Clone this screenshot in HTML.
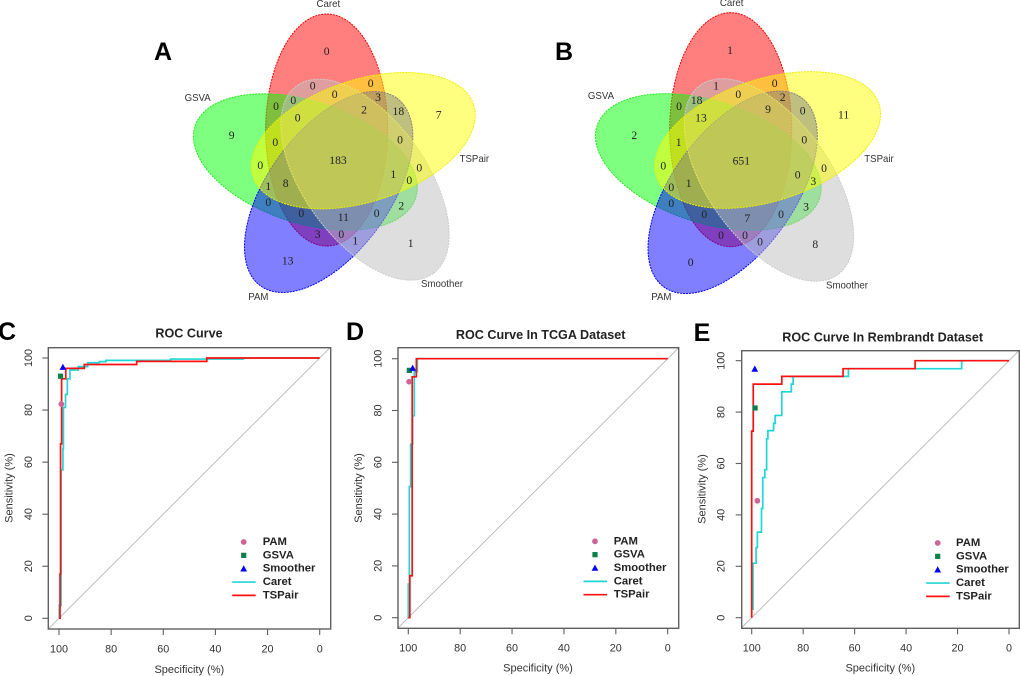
<!DOCTYPE html>
<html>
<head>
<meta charset="utf-8">
<title>Venn diagrams and ROC curves</title>
<style>
html,body{margin:0;padding:0;background:#fff;}
svg{display:block;}
.num{font-family:"Liberation Serif",serif;font-size:35px;fill:#222;text-anchor:middle;dominant-baseline:central;}
.set{font-family:"Liberation Sans",sans-serif;font-size:29px;fill:#333;text-anchor:middle;dominant-baseline:central;}
.letter{font-family:"Liberation Sans",sans-serif;font-size:25px;font-weight:bold;fill:#000;text-anchor:middle;dominant-baseline:central;}
.e{stroke-width:3;stroke-dasharray:6 3;}
</style>
</head>
<body>
<svg id="fig" xmlns="http://www.w3.org/2000/svg" width="1020" height="676" viewBox="0 0 1020 676">
<rect width="1020" height="676" fill="#fff"/>

<text class="letter" x="163" y="52">A</text>
<text class="letter" x="564" y="52">B</text>
<text class="letter" x="7" y="332">C</text>
<text class="letter" x="355" y="332">D</text>
<text class="letter" x="702" y="333">E</text>

<g transform="translate(140,0) scale(0.33333)">
<ellipse class="e" cx="560" cy="390" rx="348" ry="183" transform="rotate(90 560 390)" fill="#f00" fill-opacity=".5" stroke="#f00"/>
<ellipse class="e" cx="496" cy="486" rx="348" ry="183" transform="rotate(18 496 486)" fill="#0f0" fill-opacity=".5" stroke="#2e2"/>
<ellipse class="e" cx="566" cy="576" rx="348" ry="183" transform="rotate(-54 566 576)" fill="#00f" fill-opacity=".5" stroke="#00f"/>
<ellipse class="e" cx="675" cy="539" rx="348" ry="183" transform="rotate(54 675 539)" fill="#bebebe" fill-opacity=".5" stroke="#ccc"/>
<ellipse class="e" cx="670" cy="422" rx="348" ry="183" transform="rotate(-18 670 422)" fill="#ff0" fill-opacity=".5" stroke="#ee0"/>
<g>
<text class="num" x="560" y="155">0</text><text class="num" x="518" y="258">0</text><text class="num" x="692" y="250">0</text><text class="num" x="584" y="284">0</text><text class="num" x="714" y="292">3</text><text class="num" x="672" y="330">2</text><text class="num" x="775" y="335">18</text><text class="num" x="896" y="345">7</text><text class="num" x="460" y="302">0</text><text class="num" x="408" y="320">0</text><text class="num" x="473" y="354">0</text><text class="num" x="275" y="406">9</text><text class="num" x="406" y="427">0</text><text class="num" x="780" y="420">0</text><text class="num" x="594" y="482">183</text><text class="num" x="361" y="497">0</text><text class="num" x="838" y="504">0</text><text class="num" x="760" y="524">1</text><text class="num" x="808" y="541">0</text><text class="num" x="385" y="560">1</text><text class="num" x="437" y="550">8</text><text class="num" x="385" y="607">0</text><text class="num" x="784" y="618">2</text><text class="num" x="484" y="640">0</text><text class="num" x="610" y="652">11</text><text class="num" x="710" y="640">0</text><text class="num" x="533" y="703">3</text><text class="num" x="604" y="703">0</text><text class="num" x="646" y="723">1</text><text class="num" x="812" y="730">1</text><text class="num" x="443" y="783">13</text>
</g>
<text class="set" x="565" y="13">Caret</text>
<text class="set" x="173" y="296">GSVA</text>
<text class="set" x="1003" y="478">TSPair</text>
<text class="set" x="906" y="853">Smoother</text>
<text class="set" x="355" y="893">PAM</text>
</g>

<g transform="translate(540,0) scale(0.33333)">
<ellipse class="e" cx="572" cy="389" rx="351" ry="183" transform="rotate(90 572 389)" fill="#f00" fill-opacity=".5" stroke="#f00"/>
<ellipse class="e" cx="505" cy="486" rx="351" ry="183" transform="rotate(18 505 486)" fill="#0f0" fill-opacity=".5" stroke="#2e2"/>
<ellipse class="e" cx="578" cy="577" rx="351" ry="183" transform="rotate(-54 578 577)" fill="#00f" fill-opacity=".5" stroke="#00f"/>
<ellipse class="e" cx="687" cy="540" rx="351" ry="183" transform="rotate(54 687 540)" fill="#bebebe" fill-opacity=".5" stroke="#ccc"/>
<ellipse class="e" cx="683" cy="420" rx="351" ry="183" transform="rotate(-18 683 420)" fill="#ff0" fill-opacity=".5" stroke="#ee0"/>
<g>
<text class="num" x="570" y="152">1</text><text class="num" x="528" y="258">1</text><text class="num" x="704" y="250">0</text><text class="num" x="595" y="284">0</text><text class="num" x="728" y="292">2</text><text class="num" x="684" y="328">9</text><text class="num" x="788" y="333">0</text><text class="num" x="911" y="345">11</text><text class="num" x="470" y="302">18</text><text class="num" x="417" y="320">0</text><text class="num" x="483" y="354">13</text><text class="num" x="283" y="406">2</text><text class="num" x="416" y="427">1</text><text class="num" x="793" y="420">0</text><text class="num" x="604" y="483">651</text><text class="num" x="370" y="498">0</text><text class="num" x="852" y="505">0</text><text class="num" x="773" y="525">0</text><text class="num" x="820" y="544">3</text><text class="num" x="394" y="563">0</text><text class="num" x="446" y="551">1</text><text class="num" x="394" y="611">0</text><text class="num" x="798" y="621">3</text><text class="num" x="493" y="644">0</text><text class="num" x="622" y="656">7</text><text class="num" x="723" y="644">0</text><text class="num" x="543" y="707">0</text><text class="num" x="615" y="707">0</text><text class="num" x="660" y="726">0</text><text class="num" x="826" y="733">8</text><text class="num" x="452" y="788">0</text>
</g>
<text class="set" x="575" y="11">Caret</text>
<text class="set" x="183" y="289">GSVA</text>
<text class="set" x="1017" y="479">TSPair</text>
<text class="set" x="921" y="858">Smoother</text>
<text class="set" x="364" y="893">PAM</text>
</g>
</svg>

<script>
// Shared axis ticks
const specificityTicks = [100, 80, 60, 40, 20, 0];
const sensitivityTicks = [0, 20, 40, 60, 80, 100];
const legendLabels = ["PAM", "GSVA", "Smoother", "Caret", "TSPair"];

// Panel C values (each step: move to the specificity, then rise to the sensitivity)
const cCaretSpec = [100, 99.9, 99.2, 98.5, 98.3, 97.5, 96.8, 95.8, 92.6, 89, 84.5, 82, 57.2, 29.3, 0];
const cCaretSens = [0, 5, 57, 65, 81, 86, 92, 95.4, 96.7, 98.2, 98.6, 99.1, 99.6, 100, 100];
const cTSPairSpec = [100, 99.6, 99.4, 99, 97.4, 90.3, 70.2, 43.3, 0];
const cTSPairSens = [0, 17, 67, 92, 96, 97.5, 98.7, 100, 100];
const cPam = [99.1, 82.3];
const cGsva = [99.4, 93];
const cSmoother = [98.5, 96.5];

// Panel D values
const dCaretSpec = [100, 100, 99.6, 99.1, 98.3, 97.7, 96.5, 0];
const dCaretSens = [0, 13, 50.6, 67, 78, 95, 100, 100];
const dTSPairSpec = [100, 99.4, 98.5, 96.9, 0];
const dTSPairSens = [0, 16.2, 93, 100, 100];
const dPam = [99.7, 91.1];
const dGsva = [99.6, 95.5];
const dSmoother = [98.3, 96.4];

// Panel E values
const eCaretSpec = [99.5, 99.5, 98.3, 97.8, 96.2, 95.7, 94.9, 94.2, 93.7, 91.5, 90.9, 88.3, 84.6, 83.9, 62.4, 18.4, 0];
const eCaretSens = [3, 21.2, 27.3, 33.3, 42.5, 54.5, 57.6, 69.6, 72.8, 75.6, 78.7, 87.9, 90.9, 93.9, 96.9, 100, 100];
const eTSPairSpec = [100, 100, 99.4, 88.3, 64.5, 36.5, 0];
const eTSPairSens = [0, 72.6, 90.9, 93.9, 96.9, 100, 100];
const ePam = [97.8, 45.5];
const eGsva = [98.7, 81.6];
const eSmoother = [98.8, 96.8];

const NS = "http://www.w3.org/2000/svg";
const fig = document.getElementById("fig");
const SANS = '"Liberation Sans", sans-serif';
const GREY = "#5f5f5f";
const TXT = "#333";

function mk(parent, tag, attrs, text) {
  const el = document.createElementNS(NS, tag);
  for (const k in attrs) el.setAttribute(k, attrs[k]);
  if (text !== undefined) el.textContent = text;
  parent.appendChild(el);
  return el;
}

function stepPath(sx, sy, spec, sens) {
  let d = "M" + sx(spec[0]).toFixed(2) + " " + sy(sens[0]).toFixed(2);
  for (let i = 1; i < spec.length; i++) {
    d += "H" + sx(spec[i]).toFixed(2) + "V" + sy(sens[i]).toFixed(2);
  }
  return d;
}

function drawMarker(g, kind, cx, cy) {
  let m;
  if (kind === 0) {
    m = mk(g, "circle", { cx: cx, cy: cy, r: 2.9, fill: "#CC6699" });
    
  } else if (kind === 1) {
    m = mk(g, "rect", { x: cx - 2.6, y: cy - 2.6, width: 5.2, height: 5.2, fill: "#0B8048" });
    
  } else {
    m = mk(g, "polygon", { points: (cx - 3.4) + "," + (cy + 2.8) + " " + (cx + 3.4) + "," + (cy + 2.8) + " " + cx + "," + (cy - 3.4), fill: "#0000FF" });
    
  }
  
}

function drawPanel(p) {
  const sx = v => p.x100 + (100 - v) * (p.x0 - p.x100) / 100;
  const sy = v => p.y0 - v * (p.y0 - p.y100) / 100;

  const g = mk(fig, "g", {});
  
  

  const clipId = p.id + "-clip";
  const defs = mk(g, "defs", {});
  const cp = mk(defs, "clipPath", { id: clipId });
  mk(cp, "rect", { x: p.left, y: p.top, width: p.right - p.left, height: p.bottom - p.top });

  const diag = mk(g, "line", {
    x1: sx(110), y1: sy(-10), x2: sx(-10), y2: sy(110),
    stroke: "#bdbdbd", "stroke-width": 1, "clip-path": "url(#" + clipId + ")"
  });
  
  

  const caret = mk(g, "path", {
    d: stepPath(sx, sy, p.caretSpec, p.caretSens), fill: "none",
    stroke: "#1FD6D6", "stroke-width": 1.7, "clip-path": "url(#" + clipId + ")"
  });
  
  

  const ts = mk(g, "path", {
    d: stepPath(sx, sy, p.tsSpec, p.tsSens), fill: "none",
    stroke: "#FF1010", "stroke-width": 1.7, "clip-path": "url(#" + clipId + ")"
  });
  
  

  drawMarker(g, 0, sx(p.pam[0]), sy(p.pam[1]));
  drawMarker(g, 1, sx(p.gsva[0]), sy(p.gsva[1]));
  drawMarker(g, 2, sx(p.smoother[0]), sy(p.smoother[1]));

  const box = mk(g, "rect", {
    x: p.left, y: p.top, width: p.right - p.left, height: p.bottom - p.top,
    fill: "none", stroke: GREY, "stroke-width": 1.4
  });
  
  

  specificityTicks.forEach(t => {
    const tick = mk(g, "line", { x1: sx(t), x2: sx(t), y1: p.bottom, y2: p.bottom + 6, stroke: GREY, "stroke-width": 1.1 });
    
    
    const lab = mk(g, "text", {
      x: sx(t), y: p.xTickY, "text-anchor": "middle", "dominant-baseline": "central",
      "font-family": SANS, "font-size": 10.8, fill: TXT
    }, t);
    
    
  });

  sensitivityTicks.forEach(t => {
    const tick = mk(g, "line", { x1: p.left - 6, x2: p.left, y1: sy(t), y2: sy(t), stroke: GREY, "stroke-width": 1.1 });
    
    
    const lab = mk(g, "text", {
      x: 0, y: 0, transform: "translate(" + p.yTickX + "," + sy(t) + ") rotate(-90)",
      "text-anchor": "middle", "dominant-baseline": "central",
      "font-family": SANS, "font-size": 10.8, fill: TXT
    }, t);
    
    
  });

  const title = mk(g, "text", {
    x: p.titleX, y: p.titleY, "text-anchor": "middle", "dominant-baseline": "central",
    "font-family": SANS, "font-size": 12.6, "font-weight": "bold", fill: "#222"
  }, p.title);
  
  

  const xt = mk(g, "text", {
    x: p.xLabelX, y: p.xLabelY, "text-anchor": "middle", "dominant-baseline": "central",
    "font-family": SANS, "font-size": 11, fill: TXT
  }, "Specificity (%)");
  
  

  const yt = mk(g, "text", {
    x: 0, y: 0, transform: "translate(" + p.yLabelX + "," + p.yLabelY + ") rotate(-90)",
    "text-anchor": "middle", "dominant-baseline": "central",
    "font-family": SANS, "font-size": 11, fill: TXT
  }, "Sensitivity (%)");
  
  

  const lg = mk(g, "g", {});
  
  
  legendLabels.forEach((name, i) => {
    const y = p.legendY + i * 13.35;
    if (i < 3) {
      drawMarker(lg, i, p.legendMarkX, y);
    } else {
      const ln = mk(lg, "line", {
        x1: p.legendMarkX - 11.5, x2: p.legendMarkX + 12, y1: y, y2: y,
        stroke: i === 3 ? "#1FD6D6" : "#FF1010", "stroke-width": 1.7
      });
      
      
    }
    const t = mk(lg, "text", {
      x: p.legendTextX, y: y, "dominant-baseline": "central",
      "font-family": SANS, "font-size": 11.3, "font-weight": "bold", fill: "#222"
    }, name);
    
    
  });
}

drawPanel({
  id: "c", title: "ROC Curve",
  left: 48.3, right: 330.7, top: 347.7, bottom: 629,
  x100: 59, x0: 319.7, y100: 358, y0: 618.3,
  titleX: 189, titleY: 333.7, xTickY: 649.3, yTickX: 29,
  xLabelX: 189.3, xLabelY: 670, yLabelX: 9.5, yLabelY: 488,
  legendMarkX: 243.7, legendTextX: 262.7, legendY: 542,
  caretSpec: cCaretSpec, caretSens: cCaretSens, tsSpec: cTSPairSpec, tsSens: cTSPairSens,
  pam: cPam, gsva: cGsva, smoother: cSmoother
});
drawPanel({
  id: "d", title: "ROC Curve In TCGA Dataset",
  left: 398, right: 678.7, top: 347.7, bottom: 628.3,
  x100: 408.3, x0: 667.7, y100: 358.7, y0: 617.7,
  titleX: 540.7, titleY: 335, xTickY: 648.3, yTickX: 378.3,
  xLabelX: 538, xLabelY: 668.3, yLabelX: 359, yLabelY: 488,
  legendMarkX: 595, legendTextX: 613.7, legendY: 541.3,
  caretSpec: dCaretSpec, caretSens: dCaretSens, tsSpec: dTSPairSpec, tsSens: dTSPairSens,
  pam: dPam, gsva: dGsva, smoother: dSmoother
});
drawPanel({
  id: "e", title: "ROC Curve In Rembrandt Dataset",
  left: 741.7, right: 1019.3, top: 350.7, bottom: 628.3,
  x100: 751.7, x0: 1009, y100: 360.7, y0: 617.7,
  titleX: 882.7, titleY: 337.3, xTickY: 648.3, yTickX: 721.7,
  xLabelX: 880.3, xLabelY: 668.3, yLabelX: 702.3, yLabelY: 489,
  legendMarkX: 937.7, legendTextX: 956, legendY: 543,
  caretSpec: eCaretSpec, caretSens: eCaretSens, tsSpec: eTSPairSpec, tsSens: eTSPairSens,
  pam: ePam, gsva: eGsva, smoother: eSmoother
});
</script>
</body>
</html>
